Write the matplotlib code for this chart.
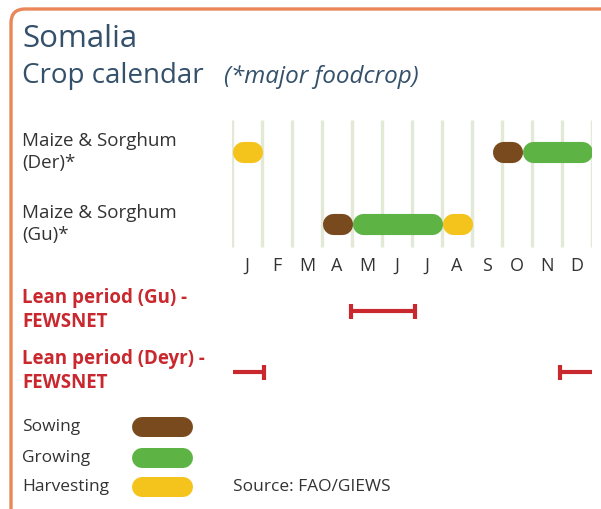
import matplotlib.pyplot as plt
from matplotlib.patches import FancyBboxPatch

plt.rcParams['font.family'] = ['Open Sans', 'DejaVu Sans']

months = ['J', 'F', 'M', 'A', 'M', 'J', 'J', 'A', 'S', 'O', 'N', 'D']
crops = ['Maize & Sorghum\n(Der)*', 'Maize & Sorghum\n(Gu)*']

# (start, end) in months from 1 January, per stage
der_harvest = [(0.0, 1.0)]
der_sowing = [(8.7, 9.67)]
der_growing = [(9.67, 12.0)]
gu_sowing = [(3.0, 4.0)]
gu_growing = [(4.0, 7.0)]
gu_harvest = [(7.0, 8.0)]

lean_gu = [(3.95, 6.1)]
lean_deyr = [(0.03, 1.07), (10.93, 12.0)]
lean_gu_caps = [3.95, 6.1]
lean_deyr_caps = [1.07, 10.93]

legend_labels = ['Sowing', 'Growing', 'Harvesting']

c_sow = '#7a4a1f'
c_grow = '#5db445'
c_harv = '#f4c31c'
c_red = '#c9282e'
c_title = '#34506a'
c_text = '#333333'

W, H = 601, 509
fig = plt.figure(figsize=(W / 100, H / 100), dpi=100)

# background axes in pixel units
bg = fig.add_axes([0, 0, 1, 1])
bg.set_xlim(0, W)
bg.set_ylim(H, 0)
bg.axis('off')
box = FancyBboxPatch((11, 9), 640, 540, boxstyle='round,pad=0,rounding_size=14',
                     fc='white', ec='#ea8657', lw=2.4)
bg.add_patch(box)

bg.text(22, 47, 'Somalia', fontsize=22.5, color=c_title, va='baseline')
bg.text(22, 83, 'Crop calendar', fontsize=20, color=c_title, va='baseline')
bg.text(224, 83, '(*major foodcrop)', fontsize=17.5, style='italic',
        color=c_title, va='baseline')

row_y = [152, 224]
for lab, y in zip(crops, row_y):
    bg.text(22, y, lab, fontsize=13.5, color=c_text, va='center', linespacing=1.25)

bg.text(22, 310, 'Lean period (Gu) -\nFEWSNET', fontsize=13.5, fontweight='bold',
        color=c_red, va='center', linespacing=1.25)
bg.text(22, 371, 'Lean period (Deyr) -\nFEWSNET', fontsize=13.5, fontweight='bold',
        color=c_red, va='center', linespacing=1.25)

leg_y = [427, 458, 487]
for lab, col, y in zip(legend_labels, [c_sow, c_grow, c_harv], leg_y):
    bg.text(22, y, lab, fontsize=12.5, color=c_text, va='center')
    bg.plot([142, 183], [y, y], color=col, lw=14.4, solid_capstyle='round')
bg.text(233, 487, 'Source: FAO/GIEWS', fontsize=12.5, color=c_text, va='center')

# calendar axes: x in months, y in pixels
ax = fig.add_axes([232 / W, 0, 360 / W, 1])
ax.set_xlim(0, 12)
ax.set_ylim(H, 0)
ax.axis('off')
ax.patch.set_alpha(0)

ax.vlines(range(13), 120, 247, color='#e2e9d6', lw=2.4, zorder=1)
for i, m in enumerate(months):
    ax.text(i + 0.5, 266, m, fontsize=13, color=c_text, ha='center', va='center')

cap = 10.5 / 30  # half pill height in month units

def pills(spans, y, col):
    for a, b in spans:
        ax.plot([a + cap, b - cap], [y, y], color=col, lw=15.2,
                solid_capstyle='round', zorder=3)

pills(der_harvest, row_y[0], c_harv)
pills(der_growing, row_y[0], c_grow)
pills(der_sowing, row_y[0], c_sow)
pills(gu_growing, row_y[1], c_grow)
pills(gu_sowing, row_y[1], c_sow)
pills(gu_harvest, row_y[1], c_harv)

for spans, caps, y in [(lean_gu, lean_gu_caps, 311), (lean_deyr, lean_deyr_caps, 372)]:
    for a, b in spans:
        ax.plot([a, b], [y, y], color=c_red, lw=3, solid_capstyle='butt')
    ax.vlines(caps, y - 7.5, y + 7.5, color=c_red, lw=3)

fig.savefig('out.png', dpi=100)
